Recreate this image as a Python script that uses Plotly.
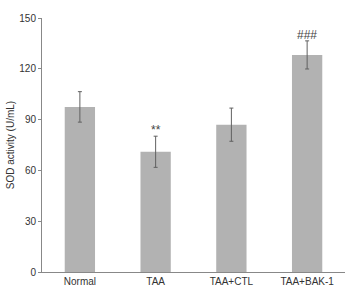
import plotly.graph_objects as go

categories = ["Normal", "TAA", "TAA+CTL", "TAA+BAK-1"]
values = [97.5, 71.0, 87.0, 128.2]
errors = [9.0, 9.2, 9.8, 8.3]
marks = ["", "**", "", "###"]

fig = go.Figure()
fig.add_trace(go.Bar(
    x=categories, y=values, width=0.4,
    marker=dict(color="#b2b2b2", line=dict(width=0)),
    error_y=dict(type="data", array=errors, visible=True, color="#606060", thickness=1, width=2),
))
for c, v, e, m in zip(categories, values, errors, marks):
    if m:
        fig.add_annotation(x=c, y=v + e, text=m, showarrow=False, yanchor="bottom",
                           yshift=-3, font=dict(size=12, color="#444444", family="Liberation Sans"))

fig.update_layout(
    width=346, height=288,
    margin=dict(l=42, r=1, t=18, b=16),
    plot_bgcolor="white", paper_bgcolor="white",
    showlegend=False,
    font=dict(family="Liberation Sans, Arial", size=10, color="#333333"),
)
fig.update_xaxes(showline=True, linecolor="#888888", linewidth=1, ticks="", showgrid=False,
                 tickfont=dict(size=10, color="#333333"))
fig.update_yaxes(range=[0, 150], tickvals=[0, 30, 60, 90, 120, 150], showline=True,
                 linecolor="#888888", linewidth=1, ticks="outside", ticklen=3, tickcolor="#888888",
                 showgrid=False, zeroline=False,
                 title=dict(text="SOD activity (U/mL)", font=dict(size=10, color="#333333"), standoff=2),
                 tickfont=dict(size=10, color="#333333"))

fig.write_html("out.html")
